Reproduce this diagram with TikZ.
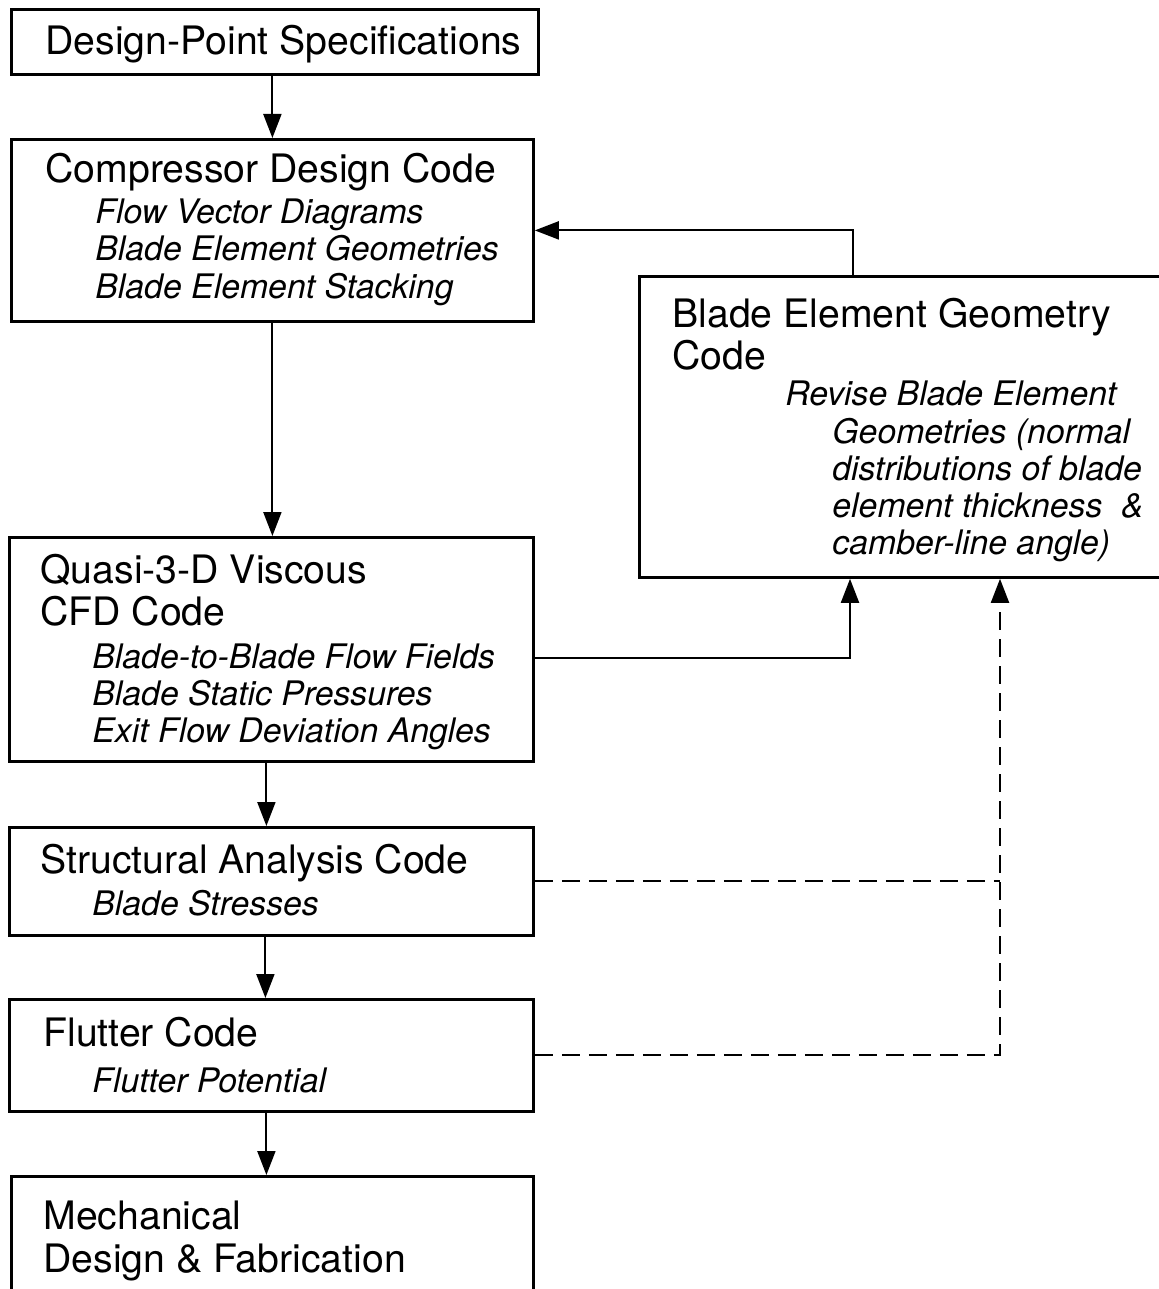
\documentclass[tikz,border=0pt]{standalone}
\usepackage{fontspec}
\setmainfont{TeX Gyre Heros}
\usetikzlibrary{arrows.meta}

\tikzset{
  box/.style={draw, line width=1.4pt, inner sep=0pt, anchor=north west},
  head/.style={anchor=base west, inner sep=0pt, font=\fontsize{19.6}{21}\selectfont},
  sub/.style={anchor=base west, inner sep=0pt, font=\fontsize{16.9}{18.5}\selectfont\itshape},
  flow/.style={line width=1pt, -{Triangle[length=12pt,width=9pt]}},
  feed/.style={flow, dash pattern=on 9pt off 4.5pt},
}

\begin{document}
\begin{tikzpicture}[x=0.5pt, y=-0.5pt]
     \useasboundingbox (0,0) rectangle (1159,1289);
     % boxes
     \node[box, minimum width=263.5pt, minimum height=32.5pt] (dps) at (10,8) {};
     \node[box, minimum width=261pt, minimum height=91pt] (cdc) at (10,138) {};
     \node[box, minimum width=280pt, minimum height=150.5pt] (beg) at (638,275) {};
     \node[box, minimum width=262pt, minimum height=112pt] (q3d) at (8,536) {};
     \node[box, minimum width=262pt, minimum height=54pt] (sac) at (8,826) {};
     \node[box, minimum width=262pt, minimum height=56pt] (flc) at (8,998) {};
     \node[box, minimum width=261pt, minimum height=75pt] (mdf) at (10,1175) {};
     % texts
     \node[head] (dpsT) at (45,55) {Design-Point Specifications};
     \node[head] (cdcT) at (45,183) {Compressor Design Code};
     \node[sub] (cdcA) at (95,224) {Flow Vector Diagrams};
     \node[sub] (cdcB) at (95,261) {Blade Element Geometries};
     \node[sub] (cdcC) at (95,298) {Blade Element Stacking};
     \node[head] (begT) at (672,327) {Blade Element Geometry};
     \node[head] (begU) at (672,369) {Code};
     \node[sub] (begA) at (785,405) {Revise Blade Element};
     \node[sub] (begB) at (832,443) {Geometries (normal};
     \node[sub] (begC) at (832,480) {distributions of blade};
     \node[sub] (begD) at (832,517) {element thickness\ \ \&};
     \node[sub] (begE) at (832,554) {camber-line angle)};
     \node[head] (q3dT) at (40,583) {Quasi-3-D Viscous};
     \node[head] (q3dU) at (40,625) {CFD Code};
     \node[sub] (q3dA) at (92,668) {Blade-to-Blade Flow Fields};
     \node[sub] (q3dB) at (92,705) {Blade Static Pressures};
     \node[sub] (q3dC) at (92,742) {Exit Flow Deviation Angles};
     \node[head] (sacT) at (40,873) {Structural Analysis Code};
     \node[sub] (sacA) at (92,915) {Blade Stresses};
     \node[head] (flcT) at (43,1046) {Flutter Code};
     \node[sub] (flcA) at (92,1092) {Flutter Potential};
     \node[head] (mdfT) at (43,1229) {Mechanical};
     \node[head] (mdfU) at (43,1272) {Design \& Fabrication};
     % main chain
     \draw[flow] (dps.south -| cdc.north) -- (cdc.north);
     \draw[flow] (cdc.south) -- (cdc.south |- q3d.north);
     \draw[flow] ([xshift=-2.5pt]q3d.south) -- ([xshift=-2.5pt]q3d.south |- sac.north);
     \draw[flow] ([xshift=-3pt]sac.south) -- ([xshift=-3pt]sac.south |- flc.north);
     \draw[flow] ([xshift=-2.5pt]flc.south) -- ([xshift=-2.5pt]flc.south |- mdf.north);
     % loops
     \coordinate (begIn) at ([xshift=106pt]beg.south west);
     \coordinate (begDash) at ([xshift=181pt]beg.south west);
     \draw[flow] ([xshift=107.5pt]beg.north west) |- (cdc.east);
     \draw[flow] ([yshift=-4.5pt]q3d.east) -| (begIn);
     \draw[feed] (flc.east) -| (begDash);
     \draw[line width=1pt, dash pattern=on 9pt off 4.5pt] (sac.east) -- (sac.east -| begDash);
\end{tikzpicture}
\end{document}
